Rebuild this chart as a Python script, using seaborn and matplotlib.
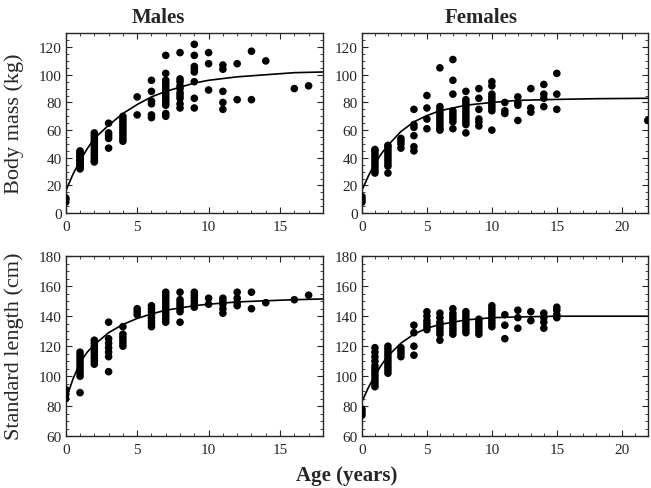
import numpy as np
import pandas as pd
import matplotlib
matplotlib.use("Agg")
import matplotlib.pyplot as plt
from matplotlib.ticker import MultipleLocator
import seaborn as sns

# --- observed points, grouped by age (years) ---
male_mass = {
    0: [8, 10, 11],
    1: [32, 33, 34, 35, 36, 37, 38, 39, 40, 41, 42, 43, 44, 45],
    2: [37, 38, 40, 42, 44, 46, 48, 50, 52, 54, 56, 58],
    3: [65, 58, 56, 54, 47],
    4: [52, 54, 56, 58, 60, 62, 64, 66, 68, 70],
    5: [84, 71],
    6: [96, 88, 81, 79, 71, 69],
    7: [114, 101, 96, 94, 92, 90, 88, 86, 84, 82, 80, 78, 72, 70],
    8: [116, 97, 95, 92, 90, 87, 85, 83, 79, 76],
    9: [122, 114, 106, 104, 102, 95, 83, 76],
    10: [116, 108, 89],
    11: [107, 104, 88, 80, 75],
    12: [108, 82],
    13: [117, 82],
    14: [110],
    16: [90],
    17: [92],
}
female_mass = {
    0: [8, 10, 12],
    1: [29, 31, 33, 35, 37, 39, 41, 43, 45, 46],
    2: [29, 34, 36, 38, 40, 42, 44, 46, 48, 49],
    3: [47, 50, 52, 54],
    4: [75, 64, 62, 56, 48, 45],
    5: [85, 76, 68, 61],
    6: [105, 77, 75, 73, 71, 69, 67, 65, 63, 61, 60],
    7: [111, 96, 86, 74, 72, 70, 68, 66, 61],
    8: [88, 82, 80, 78, 76, 74, 72, 70, 68, 66, 64, 58],
    9: [90, 83, 75, 68, 66, 63],
    10: [95, 92, 86, 84, 82, 80, 78, 76, 74, 60],
    11: [80, 74, 72],
    12: [84, 80, 78, 67],
    13: [90, 76, 73],
    14: [93, 86, 83, 77],
    15: [101, 86, 75],
    22: [67],
}
male_length = {
    0: [85, 88, 91],
    1: [89, 100, 102, 104, 106, 108, 110, 112, 114, 116],
    2: [108, 110, 112, 114, 116, 118, 120, 122, 124],
    3: [136, 125, 122, 119, 116, 113, 103],
    4: [133, 128, 126, 124, 122, 120],
    5: [145, 143, 141],
    6: [147, 145, 143, 141, 139, 137, 135, 133],
    7: [156, 154, 152, 150, 148, 146, 144, 142, 140, 138, 136],
    8: [156, 151, 149, 147, 145, 143, 136],
    9: [156, 154, 152, 150, 148, 146],
    10: [152, 148],
    11: [152, 150, 148, 145, 142],
    12: [156, 152, 149, 147],
    13: [156, 145],
    14: [149],
    16: [151],
    17: [154],
}
female_length = {
    0: [74, 76, 78],
    1: [93, 95, 97, 99, 101, 103, 105, 107, 110, 113, 116, 119],
    2: [102, 104, 106, 108, 110, 112, 114, 116, 118, 120],
    3: [113, 115, 117, 119],
    4: [134, 129, 120, 114],
    5: [143, 140, 137, 135, 133, 131],
    6: [142, 139, 136, 134, 132, 130, 128, 124],
    7: [145, 142, 140, 138, 136, 134, 132, 130, 128],
    8: [143, 141, 139, 137, 135, 133, 131, 129],
    9: [138, 136, 134, 132, 130, 128],
    10: [147, 145, 143, 141, 139, 137, 135, 133],
    11: [141, 134, 125],
    12: [144, 139, 132],
    13: [143, 137],
    14: [142, 139, 136, 132],
    15: [146, 144, 141, 139],
}

# --- fitted growth curves ---
curve_age_m = [0, 0.5, 1, 1.5, 2, 3, 4, 5, 6, 7, 8, 9, 10, 12, 14, 16, 18]
curve_mass_m = [16, 28, 38, 46.5, 54, 63.5, 72, 78.5, 84, 88, 91, 94, 96, 98.5, 100, 101.5, 102]
curve_len_m = [84, 98, 109, 116, 121, 129, 134.5, 138.5, 141.5, 144, 145.5, 147, 148, 149.5, 150.3, 151, 151.5]

curve_age_f = [0, 0.5, 1, 1.5, 2, 3, 4, 5, 6, 7, 8, 10, 12, 15, 18, 22]
curve_mass_f = [16.5, 27, 36, 43, 49, 59, 66, 70.5, 74, 76, 78, 80, 81.5, 82.2, 82.7, 83]
curve_len_f = [83, 92.5, 100.5, 107.5, 113.5, 122, 128, 132, 134.5, 136, 137.5, 139, 139.5, 140, 140, 140]


def to_frame(d):
    rows = [(age, v) for age, vals in d.items() for v in vals]
    return pd.DataFrame(rows, columns=["age", "value"])


sns.set_style("ticks")
plt.rcParams["font.family"] = ["Liberation Serif", "DejaVu Serif"]

fig = plt.figure(figsize=(6.51, 4.89), dpi=100)
ax_tl = fig.add_axes([0.101, 0.562, 0.395, 0.368])
ax_tr = fig.add_axes([0.556, 0.562, 0.439, 0.368])
ax_bl = fig.add_axes([0.101, 0.106, 0.395, 0.368])
ax_br = fig.add_axes([0.556, 0.106, 0.439, 0.368])

panels = [
    (ax_tl, male_mass, curve_age_m, curve_mass_m, 18, (0, 130)),
    (ax_tr, female_mass, curve_age_f, curve_mass_f, 22, (0, 130)),
    (ax_bl, male_length, curve_age_m, curve_len_m, 18, (60, 180)),
    (ax_br, female_length, curve_age_f, curve_len_f, 22, (60, 180)),
]

for ax, pts, cx, cy, xmax, ylim in panels:
    df = to_frame(pts)
    sns.lineplot(x=cx, y=cy, ax=ax, color="black", lw=1.2, zorder=2)
    sns.scatterplot(data=df, x="age", y="value", ax=ax, color="black",
                    s=30, edgecolor="none", zorder=3)
    ax.set_xlim(0, xmax)
    ax.set_ylim(*ylim)
    ax.xaxis.set_major_locator(MultipleLocator(5))
    ax.xaxis.set_minor_locator(MultipleLocator(1))
    ax.yaxis.set_major_locator(MultipleLocator(20))
    ax.yaxis.set_minor_locator(MultipleLocator(5))
    ax.tick_params(which="both", direction="in", top=True, right=True, labelsize=11)
    ax.tick_params(axis="x", pad=5)
    ax.tick_params(axis="y", pad=3)
    ax.tick_params(which="major", length=4, width=0.8)
    ax.tick_params(which="minor", length=2, width=0.6)
    ax.set_xlabel("")
    ax.set_ylabel("")
    for sp in ax.spines.values():
        sp.set_linewidth(1.0)
        sp.set_visible(True)

fig.text(0.243, 0.963, "Males", ha="center", va="center", fontsize=15, fontweight="bold")
fig.text(0.739, 0.963, "Females", ha="center", va="center", fontsize=15, fontweight="bold")
fig.text(0.022, 0.746, "Body mass (kg)", rotation=90, ha="center", va="center", fontsize=16)
fig.text(0.022, 0.292, "Standard length (cm)", rotation=90, ha="center", va="center", fontsize=16)
fig.text(0.533, 0.027, "Age (years)", ha="center", va="center", fontsize=15, fontweight="bold")

fig.savefig("out.png", dpi=100)
